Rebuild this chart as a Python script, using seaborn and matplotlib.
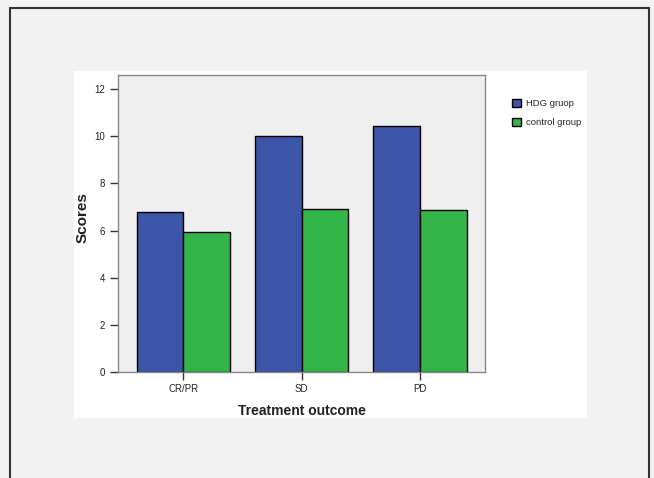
import numpy as np
import pandas as pd
import matplotlib
matplotlib.use("Agg")
import matplotlib.pyplot as plt
from matplotlib.patches import Rectangle
from matplotlib.lines import Line2D
import seaborn as sns

# values
outcomes = ["CR/PR", "SD", "PD"]
groups = ["HDG gruop", "control group"]
hdg_scores = [6.77, 10.03, 10.44]
control_scores = [5.92, 6.90, 6.88]
yticks = [0, 2, 4, 6, 8, 10, 12]

colors = {"HDG gruop": "#3d55a8", "control group": "#33b54a"}

df = pd.DataFrame({
    "outcome": outcomes * 2,
    "group": [groups[0]] * 3 + [groups[1]] * 3,
    "score": hdg_scores + control_scores,
})

sns.set_style("white")
plt.rcParams["font.family"] = ["Liberation Sans", "DejaVu Sans"]

fig = plt.figure(figsize=(6.54, 4.78), dpi=100, facecolor="#f2f2f2")

# white chart panel and the outer frame
fig.patches.append(Rectangle((0.1131, 0.1255), 0.7844, 0.7259, transform=fig.transFigure,
                             facecolor="white", edgecolor="none", zorder=-5))
frame_kw = dict(transform=fig.transFigure, color="#333333", lw=1.5, zorder=-4)
fig.lines.append(Line2D([0.016, 0.016], [-0.01, 0.9843], **frame_kw))
fig.lines.append(Line2D([0.016, 0.9924], [0.9843, 0.9843], **frame_kw))
fig.lines.append(Line2D([0.9924, 0.9924], [-0.01, 0.9843], **frame_kw))

ax = fig.add_axes([0.1809, 0.2224, 0.5607, 0.6217])
ax.set_zorder(2)
ax.set_facecolor("#efefef")

sns.barplot(data=df, x="outcome", y="score", hue="group", order=outcomes,
            hue_order=groups, palette=colors, width=0.79, gap=0,
            edgecolor="black", linewidth=1, saturation=1, ax=ax, legend=True)

ax.set_xlim(-0.55, 2.55)
ax.set_ylim(0, 12.63)
ax.set_yticks(yticks)
ax.set_yticklabels([str(t) for t in yticks])

for side in ["left", "right", "top", "bottom"]:
    ax.spines[side].set_visible(True)
    ax.spines[side].set_color("#888888")
    ax.spines[side].set_linewidth(1)

ax.tick_params(axis="both", direction="out", length=6, width=1, color="#333333",
               labelsize=7, labelcolor="#222222")
ax.tick_params(axis="y", pad=3.5, left=True)
ax.tick_params(axis="x", pad=3, bottom=True)

ax.set_xlabel("Treatment outcome", fontsize=10, fontweight="bold", color="#222222")
ax.set_ylabel("Scores", fontsize=11, fontweight="bold", color="#222222")
ax.xaxis.set_label_coords(0.5, -0.11)
ax.yaxis.set_label_coords(-0.078, 0.517)

handles, labels = ax.get_legend_handles_labels()
ax.legend_.remove()
leg = fig.legend(handles, labels, loc="upper left", bbox_to_anchor=(0.7824, 0.793),
                 frameon=False, fontsize=6.8, borderpad=0, borderaxespad=0,
                 handlelength=0.95, handleheight=0.95, handletextpad=0.6,
                 labelspacing=1.0)
leg.set_zorder(3)

fig.savefig("out.png", dpi=100, facecolor=fig.get_facecolor())
